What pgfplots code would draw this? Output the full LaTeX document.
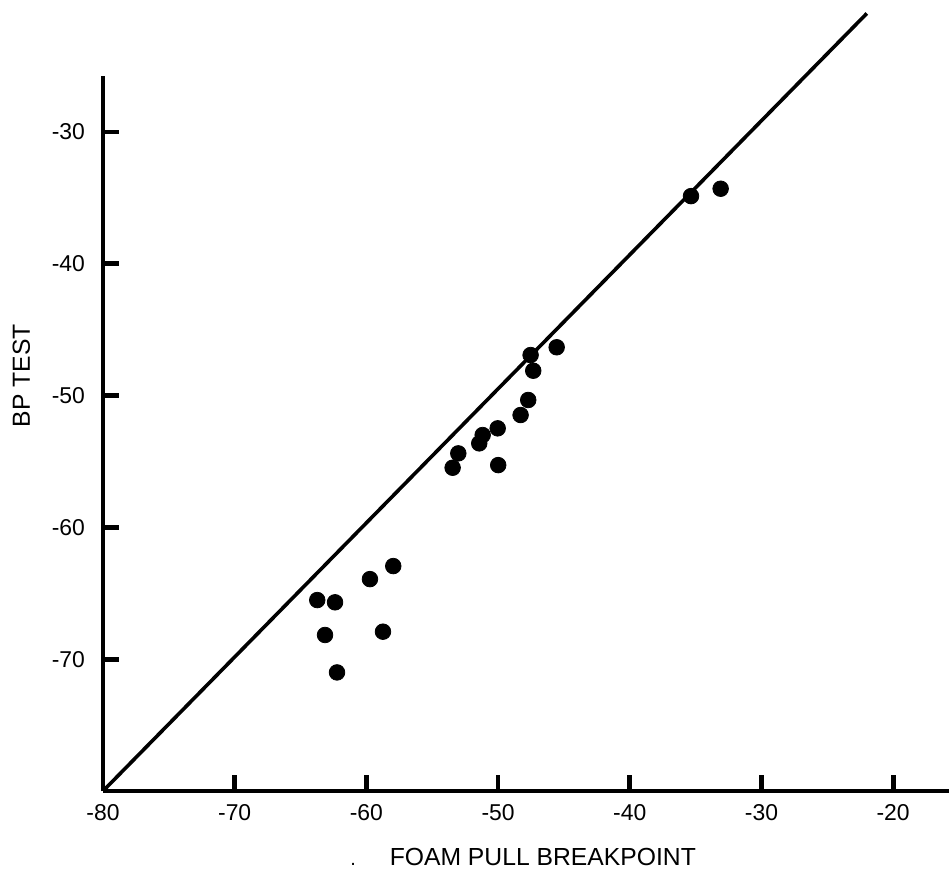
\documentclass[border=0pt]{standalone}
\usepackage{fontspec}
\setmainfont{Liberation Sans}
\usepackage{pgfplots}
\usepackage{pgfplotstable}
\pgfplotsset{compat=1.18}
\pgfplotstableread{
x y
-35.35 -34.86
-33.10 -34.30
-45.55 -46.33
-47.53 -46.92
-47.33 -48.11
-47.71 -50.33
-48.29 -51.47
-50.03 -52.48
-51.17 -52.99
-51.43 -53.62
-53.02 -54.38
-53.45 -55.47
-49.99 -55.27
-57.96 -62.93
-59.73 -63.92
-63.73 -65.51
-62.38 -65.68
-63.14 -68.16
-58.74 -67.91
-62.23 -71.00
}\pts
\begin{document}
\begin{tikzpicture}
\begin{axis}[
  x=6.585bp, y=6.59bp,
  xmin=-80, xmax=-15.76, ymin=-80, ymax=-25.75,
  axis x line*=bottom, axis y line*=left,
  axis line style={line width=1.8bp, black},
  xtick={-80,-70,-60,-50,-40,-30,-20},
  ytick={-70,-60,-50,-40,-30},
  tick align=inside,
  major tick length=8bp,
  tick style={line width=2.4bp, black},
  /pgf/number format/assume math mode=true,
  ticklabel style={font=\fontsize{11.5}{13}\selectfont},
  xticklabel style={yshift=-3bp},
  yticklabel style={xshift=-5.5bp},
  clip=false,
]
\addplot[black, line width=1.8bp] coordinates {(-80,-80) (-22,-21)};
\addplot[only marks, mark=*, mark size=3.9bp, black] table {\pts};
\node[font=\fontsize{12.4}{14}\selectfont] at (axis cs:-46.6,-85.0) {FOAM PULL BREAKPOINT};
\node[rotate=90, font=\fontsize{12.4}{14}\selectfont] at (axis cs:-86.2,-48.5) {BP TEST};
\node[font=\fontsize{10}{12}\selectfont] at (axis cs:-61.0,-85.6) {.};
\coordinate (bl) at (axis cs:-87.82,-86.07);
\coordinate (tr) at (axis cs:-15.76,-19.98);
\end{axis}
\pgfresetboundingbox
\path[use as bounding box] (bl) rectangle (tr);
\end{tikzpicture}
\end{document}
